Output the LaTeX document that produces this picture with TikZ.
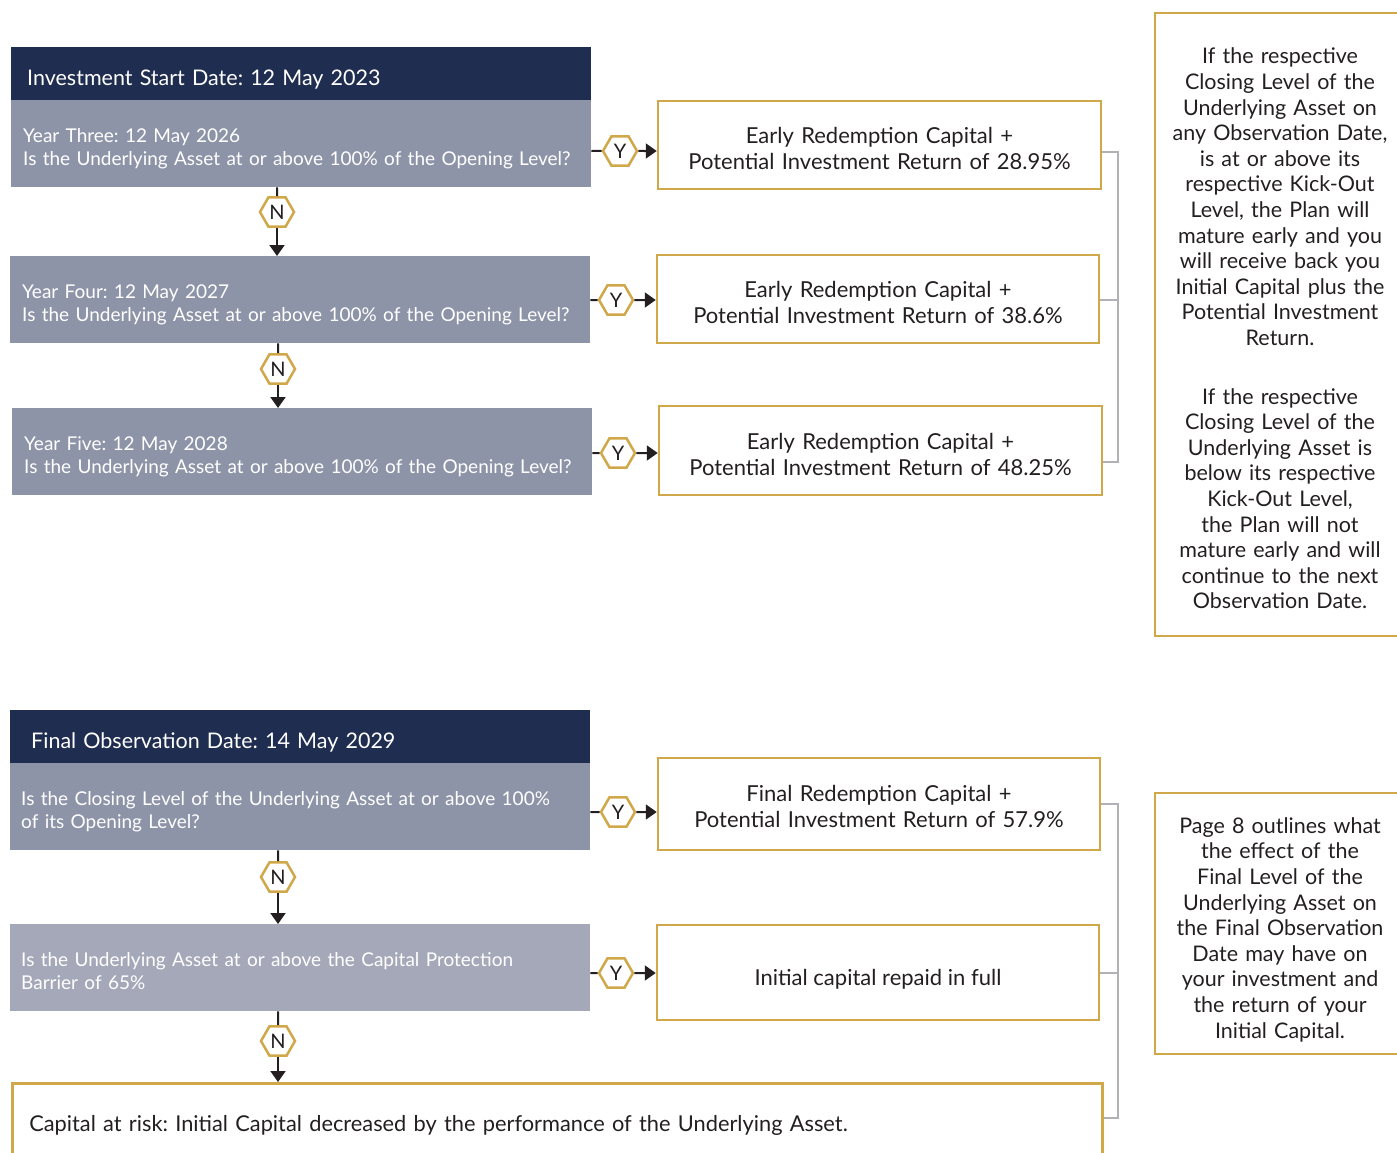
\documentclass[tikz,border=0pt]{standalone}
\usepackage{fontspec}
\setmainfont{Lato}
\usetikzlibrary{shapes.geometric,arrows.meta}
\definecolor{navy}{HTML}{1F2D50}
\definecolor{qgray}{HTML}{8E94A8}
\definecolor{lgray}{HTML}{A4A8B8}
\definecolor{gold}{HTML}{D0A84A}
\definecolor{brk}{HTML}{B1B1B6}
\definecolor{ink}{HTML}{231F20}
\frenchspacing
\begin{document}
\begin{tikzpicture}[x=1pt,y=-1pt,
  tshift/.style={execute at begin node={\rule{0pt}{#1}}},
  hdr/.style={fill=navy,text=white,anchor=north west,inner xsep=16pt,inner ysep=0pt,text width=548pt,minimum height=53pt,align=left,font=\fontsize{21.5}{26}\selectfont,tshift=27.5pt},
  qbox/.style={fill=qgray,text=white,anchor=north west,inner xsep=12pt,inner ysep=0pt,text width=556pt,minimum height=87pt,align=left,font=\fontsize{19}{23}\selectfont},
  gbox/.style={draw=gold,line width=2.5pt,text=ink,inner sep=0pt,align=center,font=\fontsize{22}{26}\selectfont},
  sidebox/.style={draw=gold,line width=2.5pt,text=ink,inner sep=0pt,text width=240pt,align=center,font=\fontsize{21.5}{25.6}\selectfont},
  hexa/.style={regular polygon,regular polygon sides=6,draw=gold,line width=2.5pt,fill=white,minimum size=34pt,inner sep=0pt,text=ink,font=\fontsize{20}{24}\selectfont},
  conn/.style={draw=ink,line width=2pt},
  arr/.style={draw=ink,line width=2pt,-{Triangle[length=11pt,width=15pt]}},
  bracket/.style={draw=brk,line width=2.5pt}
]
\useasboundingbox (0,0) rectangle (1397,1153);

% ---------- top section ----------
\node[hdr] (h1) at (11,47) {Investment Start Date: 12 May 2023};
\node[qbox,tshift=24pt] (q1) at (11,100) {Year Three: 12 May 2026\\Is the Underlying Asset at or above 100\% of the Opening Level?};
\node[qbox,tshift=24pt] (q2) at (10,256) {Year Four: 12 May 2027\\Is the Underlying Asset at or above 100\% of the Opening Level?};
\node[qbox,tshift=24pt] (q3) at (12,408) {Year Five: 12 May 2028\\Is the Underlying Asset at or above 100\% of the Opening Level?};

\node[gbox,text width=420pt,tshift=24pt,minimum width=443pt,minimum height=88pt] (b1) at (879.5,145) {Early Redemption Capital +\\Potential Investment Return of 28.95\%};
\node[gbox,text width=420pt,tshift=24pt,minimum width=442pt,minimum height=88pt] (b2) at (878,299) {Early Redemption Capital +\\Potential Investment Return of 38.6\%};
\node[gbox,text width=420pt,tshift=24pt,minimum width=443pt,minimum height=89pt] (b3) at (880.5,450.5) {Early Redemption Capital +\\Potential Investment Return of 48.25\%};

\node[sidebox,tshift=24pt,minimum width=250pt,minimum height=623pt] (s1) at (1280,324.5) {If the respective\\Closing Level of the\\Underlying Asset on\\any Observation Date,\\is at or above its\\respective Kick-Out\\Level, the Plan will\\mature early and you\\will receive back you\\Initial Capital plus the\\Potential Investment\\Return.\\[33pt]If the respective\\Closing Level of the\\Underlying Asset is\\below its respective\\Kick-Out Level,\\the Plan will not\\mature early and will\\continue to the next\\Observation Date.};

\node[hexa] (n1) at (277,212) {N};
\node[hexa] (n2) at (278,369) {N};
\node[hexa] (y1) at (620,151) {Y};
\node[hexa] (y2) at (616,300) {Y};
\node[hexa] (y3) at (618,453) {Y};

\draw[conn] (n1 |- q1.south) -- (n1);
\draw[arr] (n1) -- (n1 |- q2.north);
\draw[conn] (n2 |- q2.south) -- (n2);
\draw[arr] (n2) -- (n2 |- q3.north);
\draw[conn] (q1.east |- y1) -- (y1);
\draw[arr] (y1) -- (b1.west |- y1);
\draw[conn] (q2.east |- y2) -- (y2);
\draw[arr] (y2) -- (b2.west |- y2);
\draw[conn] (q3.east |- y3) -- (y3);
\draw[arr] (y3) -- (b3.west |- y3);

\coordinate (k1) at (1118,152);
\coordinate (k2) at (1118,300);
\coordinate (k3) at (1118,462);
\draw[bracket] (b1.east |- k1) -- (k1) -- (k3) -- (b3.east |- k3);
\draw[bracket] (b2.east |- k2) -- (k2);

% ---------- bottom section ----------
\node[hdr,inner xsep=21pt,text width=538pt] (h2) at (10,710) {Final Observation Date: 14 May 2029};
\node[qbox,tshift=24pt,inner xsep=11pt,text width=558pt] (q4) at (10,763) {Is the Closing Level of the Underlying Asset at or above 100\%\\of its Opening Level?};
\node[qbox,tshift=20pt,fill=lgray,inner xsep=11pt,text width=558pt] (q5) at (10,924) {Is the Underlying Asset at or above the Capital Protection\\Barrier of 65\%};

\node[gbox,text width=420pt,tshift=22pt,minimum width=442pt,minimum height=92pt] (f1) at (879,804) {Final Redemption Capital +\\Potential Investment Return of 57.9\%};
\node[gbox,tshift=30pt,minimum width=442pt,minimum height=95pt] (f2) at (878,972.5) {Initial capital repaid in full};
\node[gbox,anchor=north west,minimum width=1090pt,minimum height=84pt,align=left,inner xsep=17pt,text width=1056pt,font=\fontsize{21.8}{26}\selectfont] (f3) at (11,1082) {Capital at risk: Initial Capital decreased by the performance of the Underlying Asset.};

\node[sidebox,tshift=28pt,minimum width=250pt,minimum height=261pt] (s2) at (1280,923.5) {Page 8 outlines what\\the effect of the\\Final Level of the\\Underlying Asset on\\the Final Observation\\Date may have on\\your investment and\\the return of your\\Initial Capital.};

\node[hexa] (n3) at (278,877) {N};
\node[hexa] (n4) at (278,1041) {N};
\node[hexa] (y4) at (618,812) {Y};
\node[hexa] (y5) at (616,973) {Y};

\draw[conn] (n3 |- q4.south) -- (n3);
\draw[arr] (n3) -- (n3 |- q5.north);
\draw[conn] (n4 |- q5.south) -- (n4);
\draw[arr] (n4) -- (n4 |- f3.north);
\draw[conn] (q4.east |- y4) -- (y4);
\draw[arr] (y4) -- (f1.west |- y4);
\draw[conn] (q5.east |- y5) -- (y5);
\draw[arr] (y5) -- (f2.west |- y5);

\coordinate (m1) at (1118,804);
\coordinate (m2) at (1118,973);
\coordinate (m3) at (1118,1118);
\draw[bracket] (f1.east |- m1) -- (m1) -- (m3) -- (f3.east |- m3);
\draw[bracket] (f2.east |- m2) -- (m2);
\end{tikzpicture}
\end{document}
